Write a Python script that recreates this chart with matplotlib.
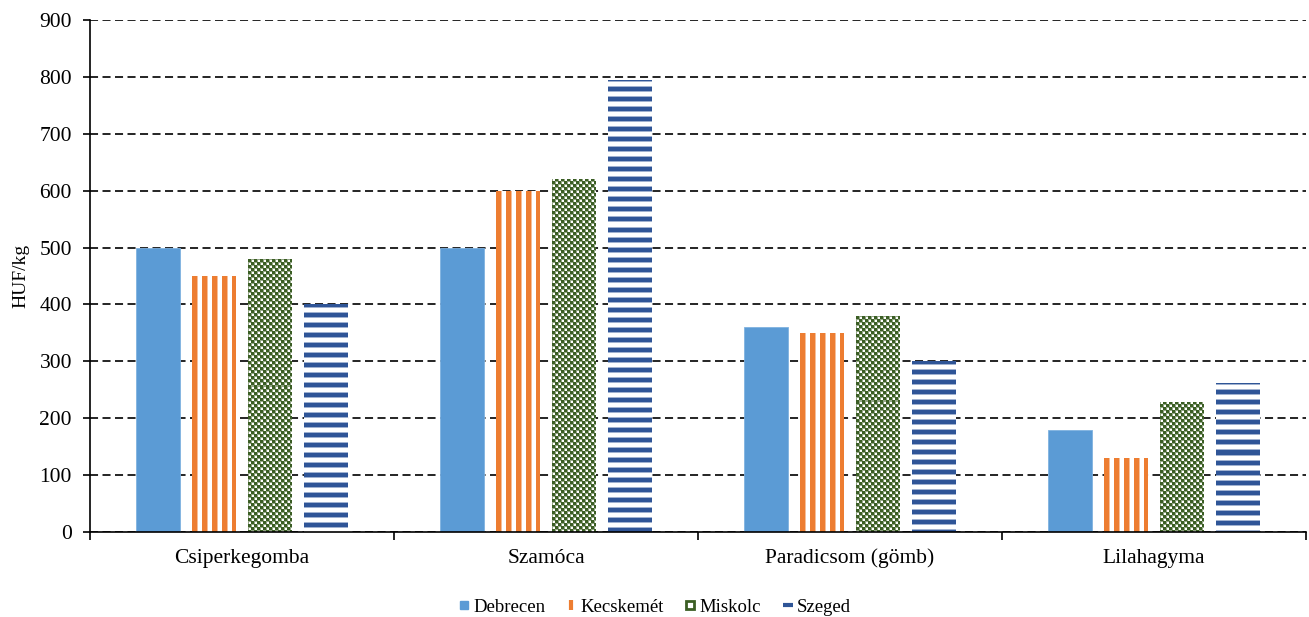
import numpy as np
import matplotlib
matplotlib.use("Agg")
import matplotlib.pyplot as plt
from matplotlib.lines import Line2D
from matplotlib.colors import to_rgb

categories = ["Csiperkegomba", "Szamóca", "Paradicsom (gömb)", "Lilahagyma"]
series_names = ["Debrecen", "Kecskemét", "Miskolc", "Szeged"]
debrecen = [500, 500, 360, 180]
kecskemet = [450, 600, 350, 130]
miskolc = [480, 620, 380, 228]
szeged = [400, 795, 300, 262]
y_ticks = [0, 100, 200, 300, 400, 500, 600, 700, 800, 900]

BLUE = "#5B9BD5"
ORANGE = "#ED7D31"
GREEN = "#3B5E24"
DBLUE = "#2F5597"

plt.rcParams["font.family"] = ["Liberation Serif", "DejaVu Serif"]
plt.rcParams["lines.scale_dashes"] = False

fig = plt.figure(figsize=(13.09, 6.17), dpi=100)
ax = fig.add_axes([90 / 1309, 1 - 532 / 617, 1216 / 1309, 512 / 617])
ax.set_xlim(-0.5, 3.5)
ax.set_ylim(0, 900)

x = np.arange(len(categories))
step = 0.184
width = 0.143
all_series = [debrecen, kecskemet, miskolc, szeged]
containers = []
for k, vals in enumerate(all_series):
    off = (k - 1.5) * step
    if k == 0:
        c = ax.bar(x + off, vals, width, color=BLUE, edgecolor="#7FB2E0", linewidth=0.6, zorder=3)
    else:
        c = ax.bar(x + off, vals, width, facecolor="none", linewidth=0, zorder=3)
    containers.append(c)


def pattern(kind, W, H):
    img = np.ones((H, W, 3))
    jj, ii = np.meshgrid(np.arange(W), np.arange(H))
    if kind == 1:
        o = np.array(to_rgb(ORANGE))
        light = 0.5 * o + 0.5
        m = (jj % 10) < 5
        img[m] = o
        img[(jj % 10) == 5] = light
    elif kind == 2:
        g = np.array(to_rgb(GREEN))
        lg = 0.55 * g + 0.45
        a = (ii % 6) < 3
        b = (jj % 6) < 3
        dark = a ^ b
        img[dark] = g
        edge = (~dark) & (((ii % 3) == 0) | ((jj % 3) == 0))
        img[edge] = lg
    elif kind == 3:
        b = np.array(to_rgb(DBLUE))
        light = 0.45 * b + 0.55
        r = ii % 10
        img[r < 4] = b
        img[(r == 4) | (r == 9)] = light
    return img


fig.canvas.draw()
inv = ax.transData.inverted()
for k in (1, 2, 3):
    for rect in containers[k]:
        x0, w, h = rect.get_x(), rect.get_width(), rect.get_height()
        p0 = ax.transData.transform((x0, 0))
        p1 = ax.transData.transform((x0 + w, h))
        px0 = np.floor(p0[0])
        py0 = np.round(p0[1])
        W = int(np.ceil(p1[0]) - px0) + 1
        H = int(np.ceil(p1[1]) - py0) + 1
        d0 = inv.transform((px0, py0))
        d1 = inv.transform((px0 + W, py0 + H))
        # pattern anchored to the top of the bar
        img = pattern(k, W, H)
        im = ax.imshow(img, extent=(d0[0], d1[0], d0[1], d1[1]), origin="upper",
                       aspect="auto", interpolation="nearest", zorder=3)
        im.set_clip_path(rect)
ax.set_xlim(-0.5, 3.5)
ax.set_ylim(0, 900)

# grid
ax.set_yticks(y_ticks)
ax.yaxis.grid(True, color="black", linewidth=1.2, linestyle=(0, (5.8, 3.2)), zorder=1)
ax.set_axisbelow(True)
ax.tick_params(axis="y", direction="out", length=5, width=1.2, labelsize=15.5, pad=8)

ax.set_xticks(np.arange(-0.5, 4.0, 1.0))
ax.set_xticklabels([])
ax.set_xticks(x, minor=True)
ax.set_xticklabels(categories, minor=True)
ax.tick_params(axis="x", which="major", direction="out", length=6, width=1.2)
ax.tick_params(axis="x", which="minor", length=0, labelsize=15.5, pad=12)

for s in ("top", "right"):
    ax.spines[s].set_visible(False)
for s in ("left", "bottom"):
    ax.spines[s].set_linewidth(1.2)
    ax.spines[s].set_color("black")
ax.spines["left"].set_zorder(4)
ax.spines["bottom"].set_zorder(4)

ax.set_ylabel("HUF/kg", fontsize=14)
ax.yaxis.set_label_coords(-0.05, 0.5)

handles = [
    Line2D([], [], linestyle="none", marker="s", markersize=6, markerfacecolor=BLUE, markeredgecolor=BLUE),
    Line2D([], [], linestyle="none", marker="|", markersize=7, markeredgewidth=3, color=ORANGE),
    Line2D([], [], linestyle="none", marker="s", markersize=5.5, markerfacecolor="white", markeredgecolor=GREEN, markeredgewidth=2),
    Line2D([], [], linestyle="none", marker="_", markersize=7, markeredgewidth=3, color=DBLUE),
]
fig.legend(handles, series_names, loc="lower center", bbox_to_anchor=(0.5, -0.025), ncol=4,
           frameon=False, fontsize=13.5, handlelength=0.6, handletextpad=0.2, columnspacing=1.1)

fig.savefig("out.png", dpi=100)
